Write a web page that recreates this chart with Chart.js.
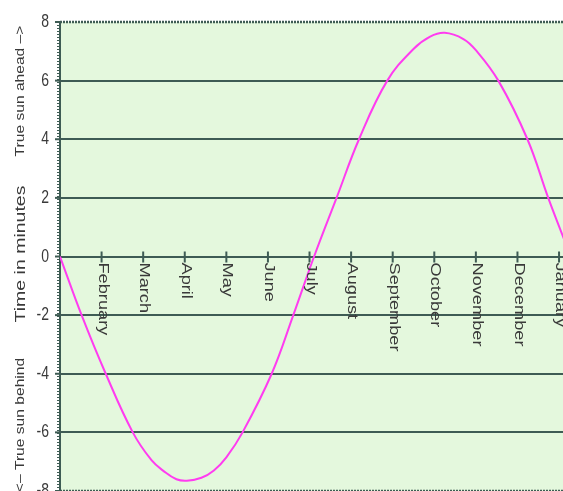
<!DOCTYPE html>
<html>
<head>
<meta charset="utf-8">
<script src="https://cdn.jsdelivr.net/npm/chart.js@4.4.1/dist/chart.umd.min.js"></script>
<style>
  html, body { margin: 0; padding: 0; background: #ffffff; overflow: hidden; width: 563px; height: 491px; }
  #wrap { position: absolute; left: 0; top: 0; width: 600px; height: 530px; }
</style>
</head>
<body>
<div id="wrap"><canvas id="c"></canvas></div>
<script>
// Months since January 1 (x) and time difference in minutes (y)
const months  = [0, 0.52, 1.10, 1.75, 2.20, 2.50, 2.80, 3.05, 3.40, 3.70, 4.00, 4.39, 5.09, 5.61, 6.11, 6.65, 7.19, 7.87, 8.50, 8.90, 9.25, 9.70, 10.00, 10.54, 11.24, 11.74, 12.09, 12.40, 12.60];
const minutes = [0, -2, -4, -6, -6.95, -7.33, -7.6, -7.65, -7.55, -7.3, -6.85, -6, -4, -2, 0, 2, 4, 6, 7.08, 7.5, 7.63, 7.42, 7.04, 6, 4, 2, 0.7, -0.47, -1.26];

const monthLabels = ['February', 'March', 'April', 'May', 'June', 'July', 'August', 'September', 'October', 'November', 'December', 'January'];
const monthTicks  = [1, 2, 3, 4, 5, 6, 7, 8, 9, 10, 11, 12];
const yTickValues = [8, 6, 4, 2, 0, -2, -4, -6, -8];
const titleAhead  = 'True sun ahead \u2013>';
const titleMain   = 'Time in minutes';
const titleBehind = '<\u2013 True sun behind';

const GRID = '#3e5c54';
const TEXT = '#3a3a3a';
const STRETCH = 1.3;

const decor = {
  id: 'decor',
  beforeDraw(chart) {
    const {ctx, chartArea: a} = chart;
    ctx.save();
    ctx.fillStyle = '#e4f8dd';
    ctx.fillRect(a.left, a.top, a.right - a.left, a.bottom - a.top);
    ctx.restore();
  },
  beforeDatasetsDraw(chart) {
    const {ctx, chartArea: a} = chart;
    const xs = chart.scales.x, ys = chart.scales.y;
    const y0 = ys.getPixelForValue(0);
    ctx.save();
    ctx.strokeStyle = GRID;
    ctx.lineWidth = 2.5;
    ctx.setLineDash([2, 1]);
    [ys.getPixelForValue(8), ys.getPixelForValue(-8)].forEach(py => {
      ctx.beginPath(); ctx.moveTo(a.left, py); ctx.lineTo(a.right, py); ctx.stroke();
    });
    ctx.setLineDash([1, 2]);
    ctx.lineWidth = 2;
    ctx.beginPath(); ctx.moveTo(a.left - 2, a.top); ctx.lineTo(a.left - 2, a.bottom); ctx.stroke();
    ctx.setLineDash([]);
    ctx.lineWidth = 2;
    ctx.beginPath(); ctx.moveTo(a.left, a.top - 1); ctx.lineTo(a.left, a.bottom); ctx.stroke();
    yTickValues.forEach(v => {
      const py = ys.getPixelForValue(v);
      ctx.beginPath(); ctx.moveTo(a.left - 5, py); ctx.lineTo(a.left, py); ctx.stroke();
    });
    monthTicks.forEach(m => {
      const px = xs.getPixelForValue(m);
      ctx.beginPath(); ctx.moveTo(px, y0 - 5); ctx.lineTo(px, y0 + 6); ctx.stroke();
    });
    ctx.restore();
  },
  afterDraw(chart) {
    const {ctx, chartArea: a} = chart;
    const xs = chart.scales.x, ys = chart.scales.y;
    const y0 = ys.getPixelForValue(0);
    ctx.save();
    ctx.fillStyle = TEXT;
    ctx.font = '14px "Liberation Sans", Arial, sans-serif';
    ctx.textAlign = 'left';
    ctx.textBaseline = 'middle';
    monthLabels.forEach((lab, i) => {
      const px = xs.getPixelForValue(monthTicks[i]);
      ctx.save();
      ctx.translate(px + 1, y0 + 6);
      ctx.rotate(Math.PI / 2);
      ctx.scale(STRETCH, 1);
      ctx.fillText(lab, 0, 0);
      ctx.restore();
    });
    ctx.textAlign = 'right';
    ctx.textBaseline = 'middle';
    yTickValues.forEach(v => {
      const py = ys.getPixelForValue(v);
      ctx.save();
      ctx.translate(a.left - 11, py);
      ctx.scale(1, STRETCH);
      ctx.fillText(String(v), 0, 0);
      ctx.restore();
    });
    ctx.textAlign = 'center';
    ctx.textBaseline = 'middle';
    const drawTitle = (txt, size, cy) => {
      ctx.save();
      ctx.font = size + 'px "Liberation Sans", Arial, sans-serif';
      ctx.translate(21, cy);
      ctx.rotate(-Math.PI / 2);
      ctx.scale(STRETCH, 1);
      ctx.fillText(txt, 0, 0);
      ctx.restore();
    };
    drawTitle(titleAhead, 12, 91);
    drawTitle(titleMain, 15, 254);
    drawTitle(titleBehind, 12, 425);
    ctx.restore();
  }
};

new Chart(document.getElementById('c'), {
  type: 'line',
  data: {
    datasets: [{
      data: months.map((m, i) => ({x: m, y: minutes[i]})),
      borderColor: '#ff3cf0',
      borderWidth: 2,
      pointRadius: 0,
      fill: false,
      tension: 0.4
    }]
  },
  options: {
    animation: false,
    responsive: true,
    maintainAspectRatio: false,
    layout: { padding: { top: 22, right: 16, bottom: 39, left: 0 } },
    plugins: { legend: { display: false }, tooltip: { enabled: false } },
    scales: {
      x: {
        type: 'linear', min: 0, max: 12.6,
        position: { y: 0 },
        grid: { display: false },
        border: { display: false },
        ticks: { display: false }
      },
      y: {
        min: -8, max: 8,
        ticks: { display: false, stepSize: 2 },
        grid: {
          color: c => (c.tick && (c.tick.value === 8 || c.tick.value === -8)) ? 'rgba(0,0,0,0)' : GRID,
          lineWidth: 2,
          drawTicks: false
        },
        border: { display: false },
        afterFit: s => { s.width = 60; }
      }
    }
  },
  plugins: [decor]
});
</script>
</body>
</html>
